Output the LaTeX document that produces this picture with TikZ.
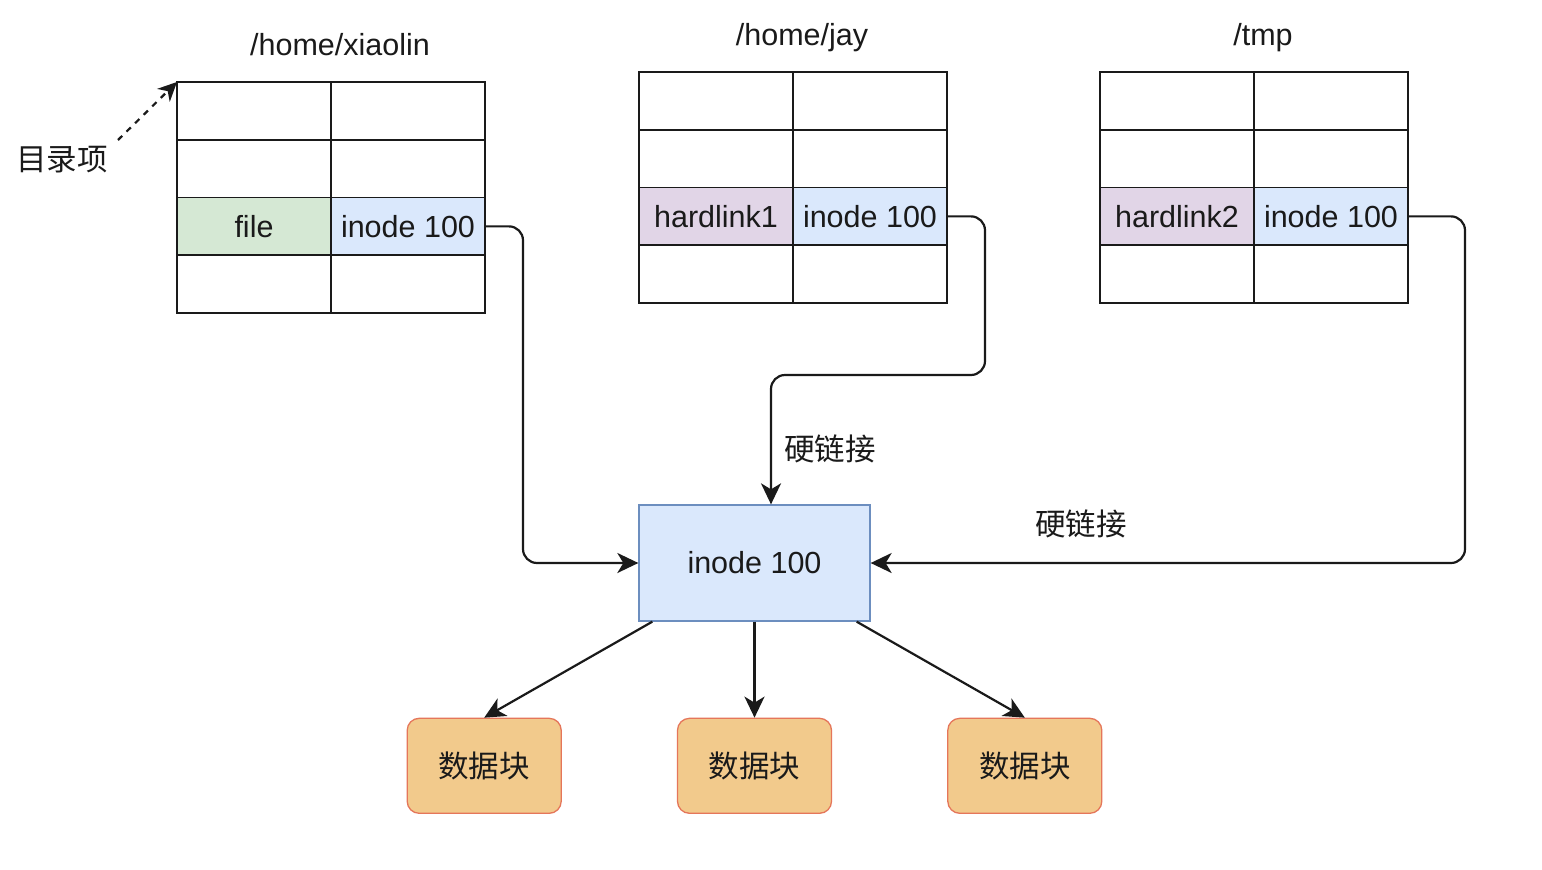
\documentclass[tikz,border=0pt]{standalone}
\usepackage{fontspec}
\setmainfont{Liberation Sans}
\newfontfamily\cjk{Noto Sans CJK SC}
\usepackage{tikz}
\usetikzlibrary{matrix,arrows.meta,positioning}

\definecolor{fileGreen}{HTML}{D5E8D4}
\definecolor{inodeBlue}{HTML}{DAE8FC}
\definecolor{inodeLine}{HTML}{6C8EBF}
\definecolor{linkPurple}{HTML}{E1D5E7}
\definecolor{blockFill}{HTML}{F2CA8C}
\definecolor{blockLine}{HTML}{E5765A}
\definecolor{inkGray}{HTML}{1A1A1A}

\tikzset{
	dirtab/.style={matrix of nodes, nodes in empty cells, inner sep=0pt, outer sep=0pt,
		column sep=-1.6pt, row sep=-1.6pt,
		nodes={draw=inkGray, line width=1.6pt, minimum width=154pt, minimum height=57.75pt,
			inner sep=0pt, outer sep=0pt, anchor=center, font=\fontsize{30.5}{36}\selectfont, text=inkGray}},
	title/.style={font=\fontsize{30.5}{36}\selectfont, text=inkGray, text height=22pt, text depth=7pt},
	tag/.style={font=\cjk\fontsize{30.5}{36}\selectfont, text=inkGray},
	inodebox/.style={draw=inodeLine, fill=inodeBlue, line width=1.3pt, minimum width=231pt,
		minimum height=116pt, font=\fontsize{30.5}{36}\selectfont, text=inkGray},
	datablock/.style={draw=blockLine, fill=blockFill, line width=1.3pt, rounded corners=12pt,
		minimum width=154pt, minimum height=95pt, font=\cjk\fontsize{30.5}{36}\selectfont, text=inkGray},
	link/.style={draw=inkGray, line width=2.2pt, rounded corners=14pt,
		-{Stealth[length=21pt,width=20pt,inset=6pt]}}
}

\begin{document}
\begin{tikzpicture}[x=1pt, y=-1pt]
\fill[white] (0,0) rectangle (1542,870);
\useasboundingbox (0,0) rectangle (1542,870);

\matrix (xiaolin) [dirtab] at (331,197.5)
{
	 & \\
	 & \\
	|[fill=fileGreen]| file & |[fill=inodeBlue]| inode 100 \\
	 & \\
};
\matrix (jay) [dirtab] at (793,187.5)
{
	 & \\
	 & \\
	|[fill=linkPurple]| hardlink1 & |[fill=inodeBlue]| inode 100 \\
	 & \\
};
\matrix (tmp) [dirtab] at (1254,187.5)
{
	 & \\
	 & \\
	|[fill=linkPurple]| hardlink2 & |[fill=inodeBlue]| inode 100 \\
	 & \\
};

\node[title, above=15pt of xiaolin, xshift=9pt] (xiaolinT) {/home/xiaolin};
\node[title, above=15pt of jay, xshift=9pt] (jayT) {/home/jay};
\node[title, above=15pt of tmp, xshift=9pt] (tmpT) {/tmp};

\node[tag] (dirlbl) at (62,160) {目录项};
\coordinate (dirStart) at (118,140);
\draw[inkGray, line width=2.2pt, dash pattern=on 6pt off 6pt, -{Stealth[length=19pt,width=18pt,inset=6pt]}]
	(dirStart) -- (xiaolin-1-1.north west);

\node[inodebox] (inode) at (754.5,563) {inode 100};

\node[datablock, below=96pt of inode] (blk2) {数据块};
\node[datablock, left=115pt of blk2] (blk1) {数据块};
\node[datablock, right=115pt of blk2] (blk3) {数据块};

\coordinate (jayBend) at (771,375);
\draw[link] (xiaolin-3-2.east) -- ++(38,0) |- (inode.west);
\draw[link] (jay-3-2.east) -- ++(38,0) |- (jayBend) -- (jayBend |- inode.north)
	node[tag, right=9pt, pos=0.57] (lbl1) {硬链接};
\draw[link] (tmp-3-2.east) -- ++(57,0) |- (inode.east);
\node[tag] (lbl2) at (1081,524) {硬链接};

\path
([xshift=14pt]inode.south west) edge[link] (blk1.north)
(inode.south) edge[link] (blk2.north)
([xshift=-14pt]inode.south east) edge[link] (blk3.north)
;
\end{tikzpicture}
\end{document}
